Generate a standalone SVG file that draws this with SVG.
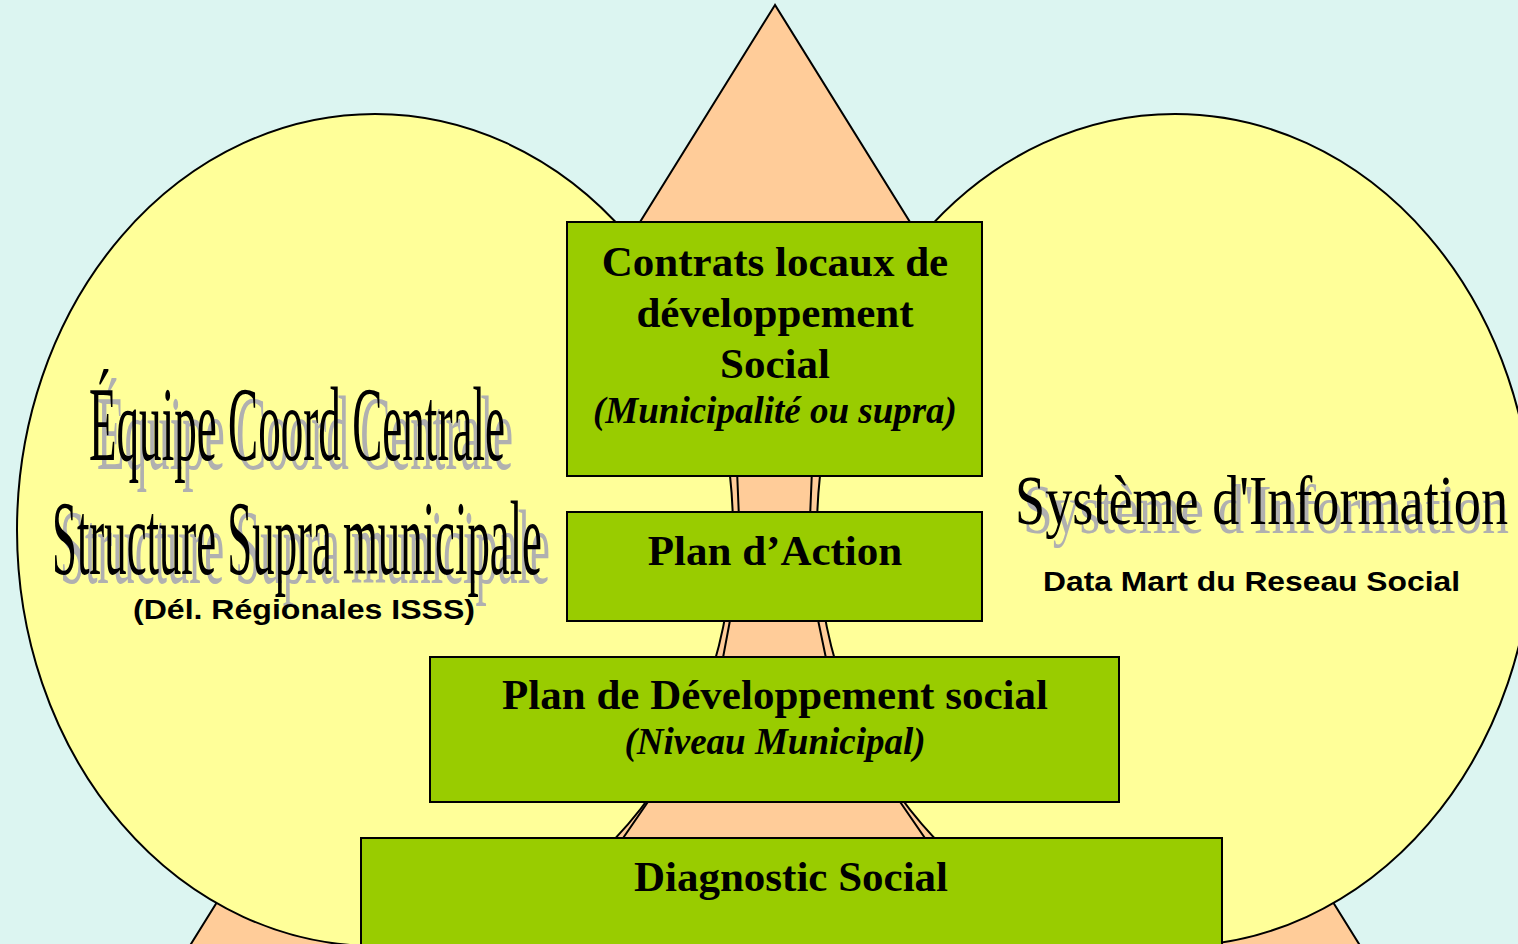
<svg xmlns="http://www.w3.org/2000/svg" width="1518" height="944" viewBox="0 0 1518 944">
  <style>
    .bg { fill: #dcf5f1; }
    .tri { fill: #ffcc99; stroke: #000; stroke-width: 2; }
    .circ { fill: #ffff99; stroke: #000; stroke-width: 2; }
    .box { fill: #99cc00; stroke: #000; stroke-width: 2; }
    .link { fill: #ffcc99; stroke: #000; stroke-width: 2; }
    .bt { font-family: "Liberation Serif", "Times New Roman", serif; font-weight: bold; font-size: 43px; fill: #000; text-anchor: middle; }
    .it { font-family: "Liberation Serif", "Times New Roman", serif; font-weight: bold; font-style: italic; font-size: 37px; fill: #000; text-anchor: middle; }
    .wa { font-family: "Liberation Serif", "Times New Roman", serif; fill: #000; }
    .sh { fill: #b0b0b0; }
    .ar { font-family: "Liberation Sans", Arial, sans-serif; font-weight: bold; font-size: 28px; fill: #000; }
  </style>
  <rect class="bg" x="0" y="0" width="1518" height="944"/>
  <g id="pyramid">
    <polygon class="tri" points="775,5 181,960 1369,960"/>
  </g>
  <g id="circle-left">
    <ellipse class="circ" cx="375" cy="530" rx="358" ry="416"/>
  </g>
  <g id="circle-right">
    <ellipse class="circ" cx="1175" cy="530" rx="358" ry="416"/>
  </g>
  <g id="connectors">
    <polygon class="link" points="737,470 812,470 810,518 739,518"/>
    <polygon class="link" points="731,615 817,615 827,663 722,663"/>
    <polygon class="link" points="652,796 896,796 929,844 619,844"/>
  </g>
  <g id="label-left">
    <text class="wa sh" x="97" y="469" font-size="106" textLength="416" lengthAdjust="spacingAndGlyphs">Équipe Coord Centrale</text>
    <text class="wa" x="89" y="460" font-size="106" textLength="416" lengthAdjust="spacingAndGlyphs">Équipe Coord Centrale</text>
    <text class="wa sh" x="60" y="583" font-size="106" textLength="490" lengthAdjust="spacingAndGlyphs">Structure Supra municipale</text>
    <text class="wa" x="52" y="574" font-size="106" textLength="490" lengthAdjust="spacingAndGlyphs">Structure Supra municipale</text>
    <text class="ar" x="133" y="619" textLength="342" lengthAdjust="spacingAndGlyphs">(Dél. Régionales ISSS)</text>
  </g>
  <g id="label-right">
    <text class="wa sh" x="1023" y="533" font-size="70" textLength="486" lengthAdjust="spacingAndGlyphs">Système d'Information</text>
    <text class="wa" x="1015" y="524" font-size="70" textLength="493" lengthAdjust="spacingAndGlyphs">Système d'Information</text>
    <text class="ar" x="1043" y="591" textLength="417" lengthAdjust="spacingAndGlyphs">Data Mart du Reseau Social</text>
  </g>
  <g id="box-contrats">
    <rect class="box" x="567" y="222" width="415" height="254"/>
    <text class="bt" x="775" y="276">Contrats locaux de</text>
    <text class="bt" x="775" y="327">développement</text>
    <text class="bt" x="775" y="378">Social</text>
    <text class="it" x="775" y="423">(Municipalité ou supra)</text>
  </g>
  <g id="box-action">
    <rect class="box" x="567" y="512" width="415" height="109"/>
    <text class="bt" x="775" y="565">Plan d’Action</text>
  </g>
  <g id="box-pds">
    <rect class="box" x="430" y="657" width="689" height="145"/>
    <text class="bt" x="775" y="709">Plan de Développement social</text>
    <text class="it" x="775" y="754">(Niveau Municipal)</text>
  </g>
  <g id="box-diagnostic">
    <rect class="box" x="361" y="838" width="861" height="120"/>
    <text class="bt" x="791" y="891">Diagnostic Social</text>
  </g>
</svg>
